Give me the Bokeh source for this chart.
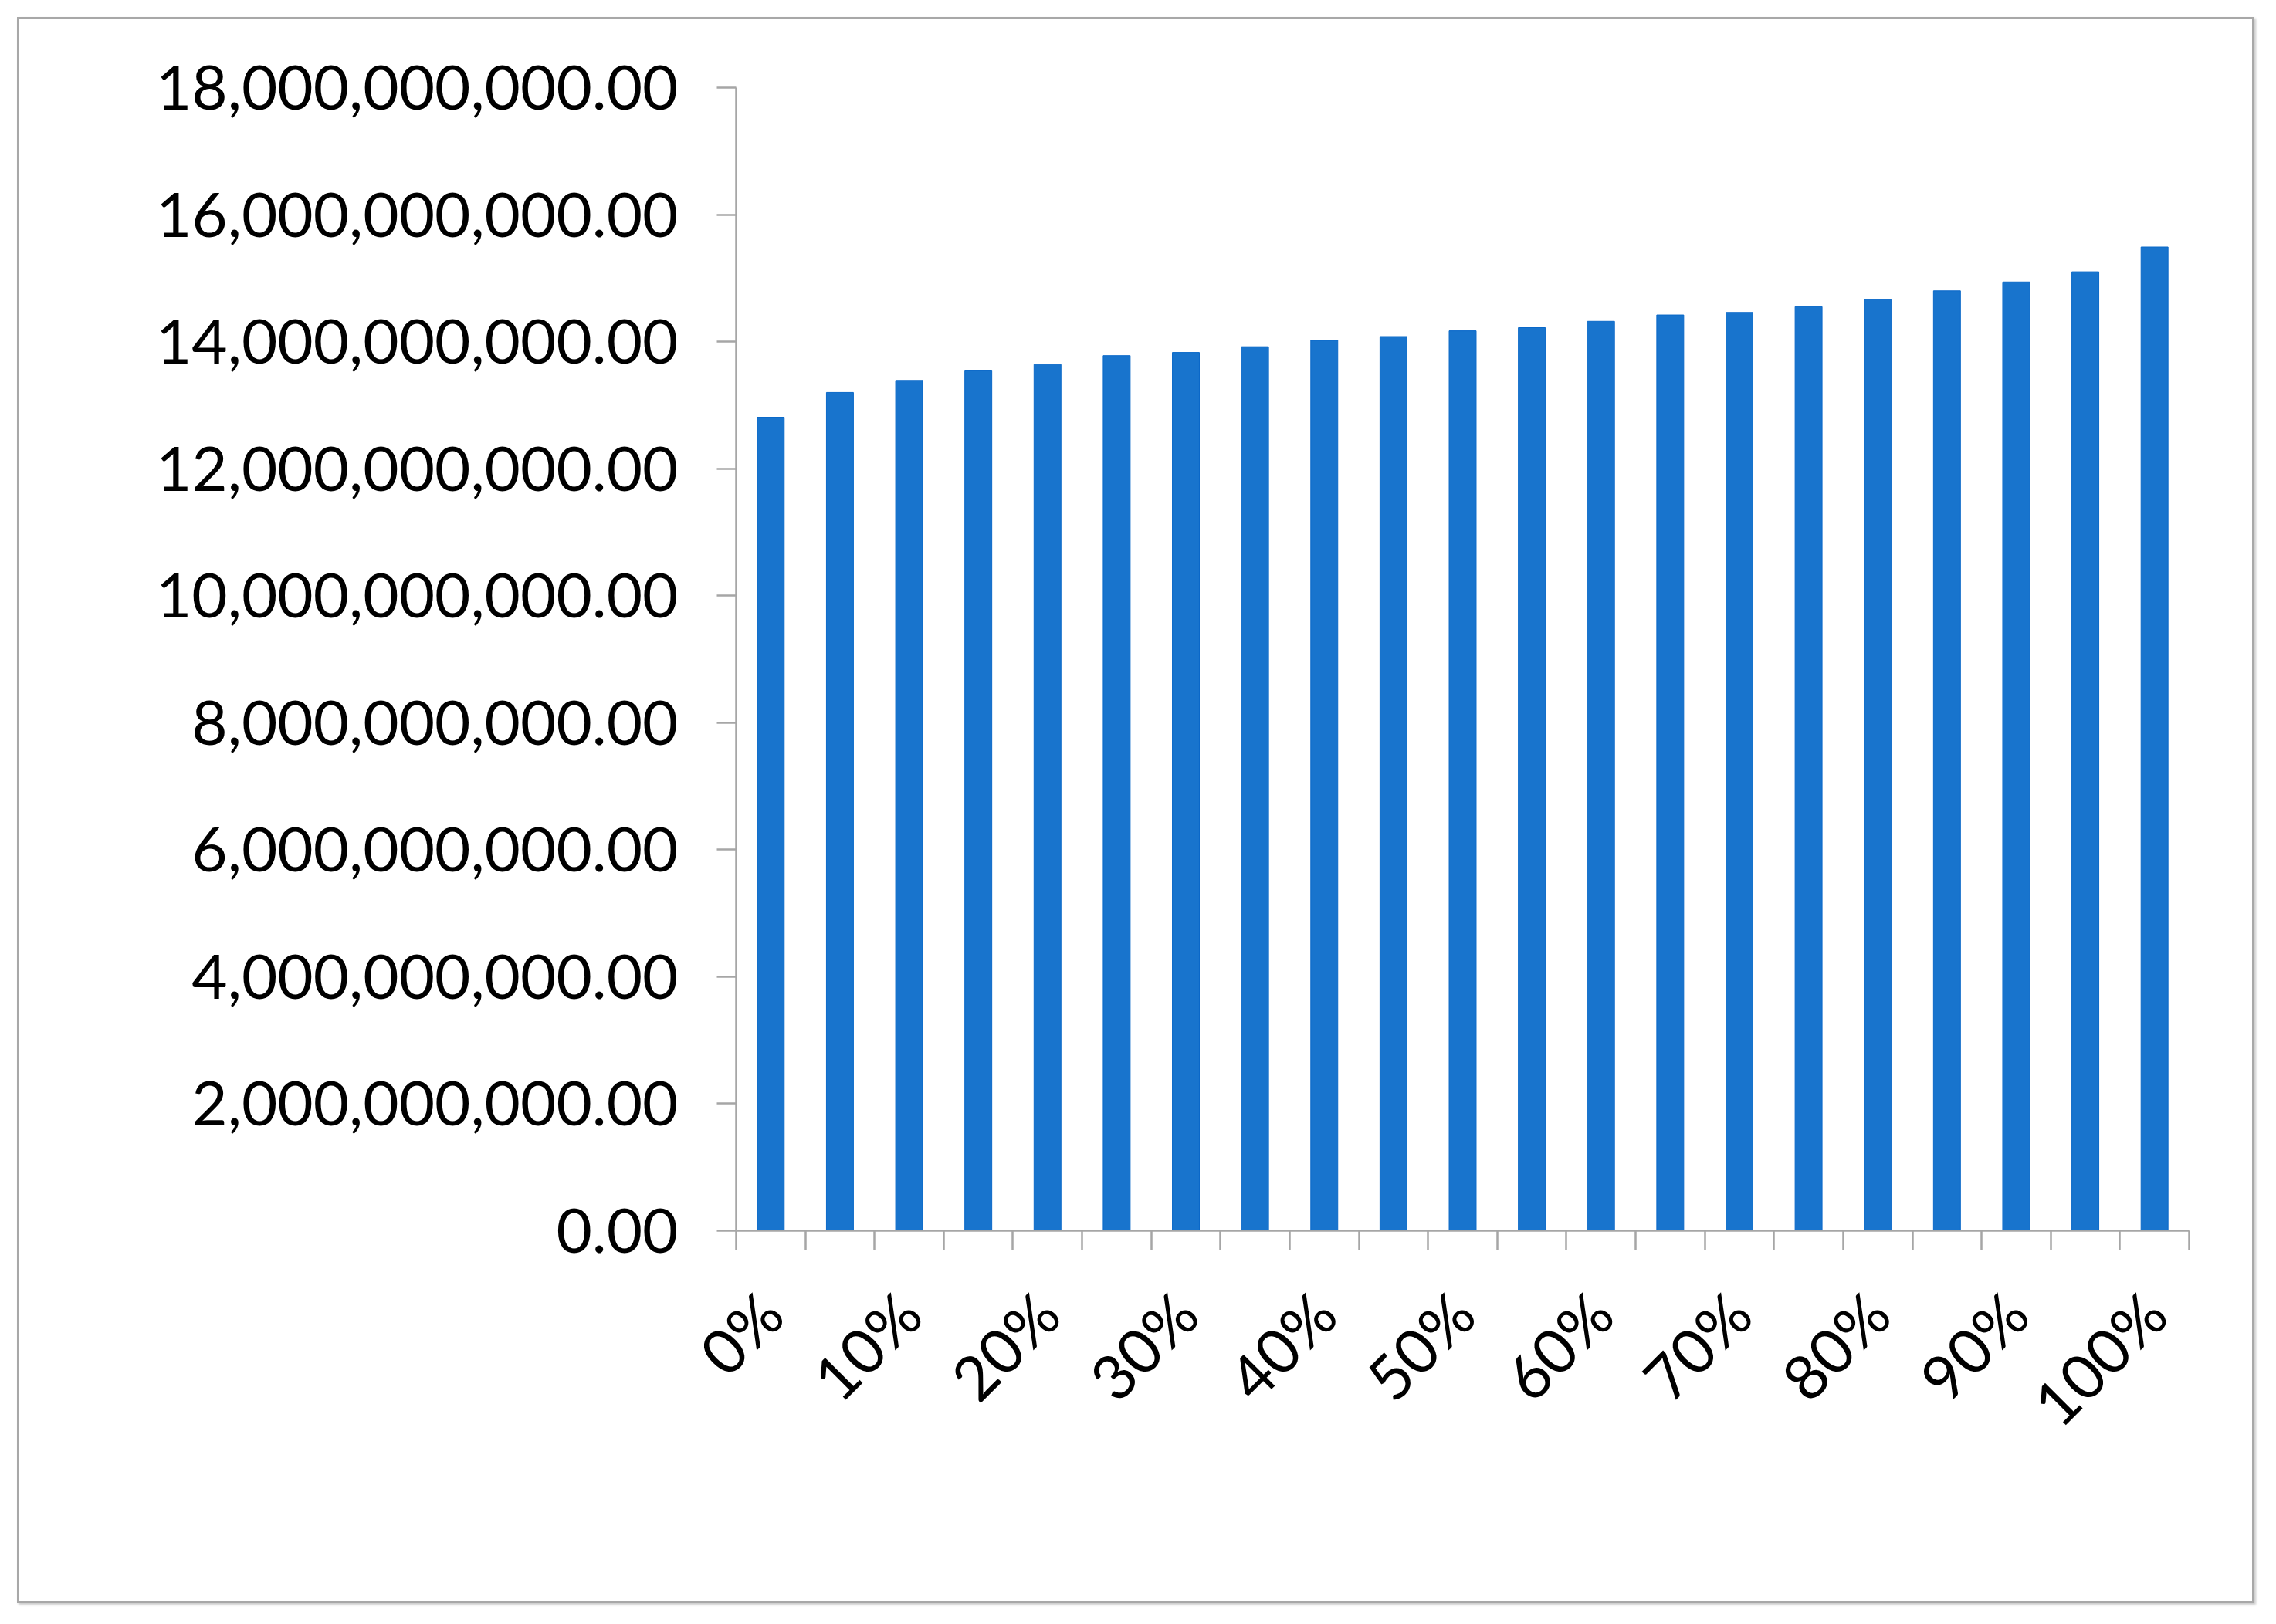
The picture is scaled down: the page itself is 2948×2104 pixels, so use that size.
import math
from bokeh.plotting import figure
from bokeh.models import FactorRange, Range1d, LinearAxis, FixedTicker, NumeralTickFormatter, CustomJSTickFormatter
from bokeh.embed import file_html
from bokeh.resources import INLINE

categories = ["0%", "5%", "10%", "15%", "20%", "25%", "30%", "35%", "40%", "45%", "50%",
              "55%", "60%", "65%", "70%", "75%", "80%", "85%", "90%", "95%", "100%"]
values = [12.81e9, 13.20e9, 13.39e9, 13.54e9, 13.64e9, 13.78e9, 13.83e9, 13.92e9, 14.02e9, 14.08e9,
          14.17e9, 14.22e9, 14.32e9, 14.42e9, 14.46e9, 14.55e9, 14.66e9, 14.80e9, 14.94e9, 15.10e9, 15.49e9]
y_ticks = [0, 2e9, 4e9, 6e9, 8e9, 10e9, 12e9, 14e9, 16e9, 18e9]
label_step = 2

FONT = "Lato"
n = len(categories)

p = figure(width=2898, height=2055,
           x_range=FactorRange(factors=categories, range_padding=0, factor_padding=0),
           y_range=Range1d(0, 18e9),
           x_axis_type=None, y_axis_type=None,
           output_backend="svg", toolbar_location=None,
           min_border_left=928, min_border_right=88, min_border_top=88, min_border_bottom=486)
p.margin = (22, 0, 0, 22)
p.styles = {"border": "3px solid #a8a8a8", "box-shadow": "2px 2px 3px #c8c8c8"}
p.outline_line_color = None
p.background_fill_color = "white"
p.border_fill_color = "white"

p.vbar(x=categories, top=values, width=0.39, bottom=0,
       fill_color="#1874CD", line_color="#0a68c8", line_width=1)

yaxis = LinearAxis(ticker=FixedTicker(ticks=y_ticks),
                   formatter=NumeralTickFormatter(format="0,0.00"))
yaxis.axis_line_color = "#a6a6a6"
yaxis.axis_line_width = 2.5
yaxis.major_tick_line_color = "#a6a6a6"
yaxis.major_tick_line_width = 2.5
yaxis.major_tick_out = 25
yaxis.major_tick_in = 0
yaxis.minor_tick_line_color = None
yaxis.major_label_standoff = 50
yaxis.major_label_text_font = FONT
yaxis.major_label_text_font_size = "80px"
yaxis.major_label_text_color = "#000000"
p.add_layout(yaxis, "left")

xaxis = LinearAxis(ticker=FixedTicker(ticks=[i + 0.5 for i in range(0, n, label_step)],
                                      minor_ticks=list(range(n + 1))),
                   formatter=CustomJSTickFormatter(args=dict(labels=categories),
                                                   code="return labels[Math.floor(tick)];"))
xaxis.axis_line_color = "#a6a6a6"
xaxis.axis_line_width = 2.5
xaxis.major_tick_line_color = None
xaxis.minor_tick_line_color = "#a6a6a6"
xaxis.minor_tick_line_width = 2.5
xaxis.minor_tick_out = 25
xaxis.minor_tick_in = 0
xaxis.major_label_orientation = math.pi / 4
xaxis.major_label_standoff = 68
xaxis.major_label_text_font = FONT
xaxis.major_label_text_font_size = "80px"
xaxis.major_label_text_color = "#000000"
p.add_layout(xaxis, "below")

open("out.html", "w").write(file_html(p, INLINE))
